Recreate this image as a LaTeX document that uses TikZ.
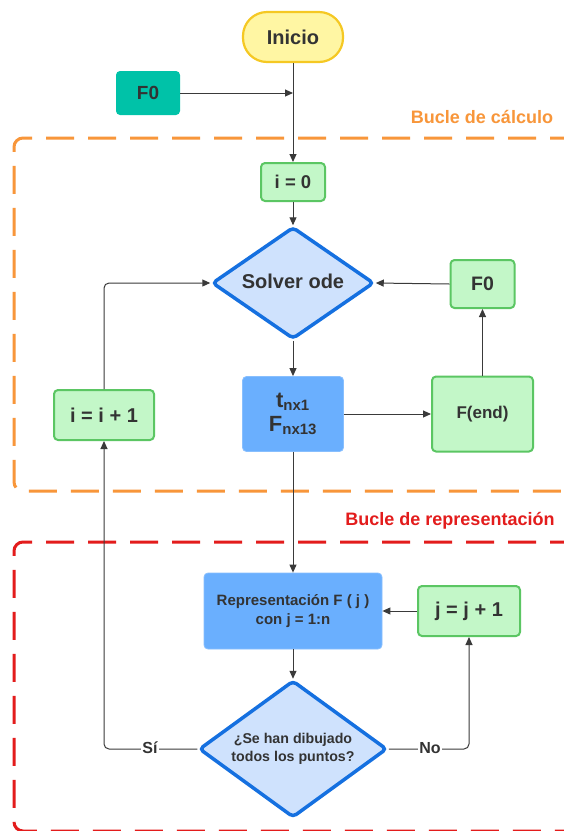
\documentclass[tikz,border=0pt]{standalone}
\usepackage{fontspec}
\setmainfont{Liberation Sans}
\usetikzlibrary{shapes.geometric,arrows.meta}
\definecolor{txt}{HTML}{333333}
\definecolor{yfill}{HTML}{FFF6A3}
\definecolor{ydraw}{HTML}{F5C823}
\definecolor{teal}{HTML}{00C2A8}
\definecolor{gfill}{HTML}{C3F7C8}
\definecolor{gdraw}{HTML}{5BC663}
\definecolor{dfill}{HTML}{CFE2FD}
\definecolor{ddraw}{HTML}{1570E0}
\definecolor{bfill}{HTML}{6AAFFE}
\definecolor{orng}{HTML}{F8963A}
\definecolor{redc}{HTML}{E31C1C}
\definecolor{linec}{HTML}{3A3A3A}
\tikzset{
  x=1pt,y=-1pt,
  every node/.style={font=\bfseries, text=txt, inner sep=0pt},
  greenbox/.style={draw=gdraw, fill=gfill, line width=2pt, rounded corners=4pt},
  bluebox/.style={draw=bfill!80!white, fill=bfill, line width=0.8pt, rounded corners=4pt},
  decision/.style={diamond, draw=ddraw, fill=dfill, line width=3.5pt, rounded corners=4pt, aspect=1.45},
  conn/.style={draw=linec, line width=1pt, -{Triangle[length=8pt,width=7pt]}},
  plain/.style={draw=linec, line width=1pt},
  loopbox/.style={line width=3pt, dash pattern=on 28pt off 14pt, rounded corners=9pt}
}
\begin{document}
\begin{tikzpicture}
\useasboundingbox (0,0) rectangle (564,831);
\clip (0,0) rectangle (564,831);
\fill[white] (0,0) rectangle (564,831);

% loop frames
\draw[loopbox, draw=orng] (620,138) -- (14,138) -- (14,491) -- (620,491);
\draw[loopbox, draw=redc] (620,542) -- (14,542) -- (14,831) -- (620,831);
\node[text=orng, font=\bfseries\fontsize{18}{20}\selectfont] (lab1) at (482,117) {Bucle de cálculo};
\node[text=redc, font=\bfseries\fontsize{18}{20}\selectfont] (lab2) at (450,521) {Bucle de representación};

% nodes
\node[draw=ydraw, fill=yfill, line width=2.2pt, rounded corners=24pt, minimum width=100pt, minimum height=50pt, font=\bfseries\fontsize{20}{22}\selectfont] (inicio) at (293,37) {Inicio};
\node[fill=teal, rounded corners=4pt, minimum width=64pt, minimum height=44pt, font=\bfseries\fontsize{19}{21}\selectfont] (f0a) at (148,93) {F0};
\coordinate (m1) at (293,93);
\node[greenbox, minimum width=64pt, minimum height=38pt, font=\bfseries\fontsize{18.5}{20}\selectfont] (i0) at (293,182) {i = 0};
\node[decision, minimum width=162pt, minimum height=112pt] (solver) at (293,283) {};
\node[font=\bfseries\fontsize{20}{22}\selectfont] (solvert) at (293,281) {Solver ode};
\node[greenbox, minimum width=64pt, minimum height=48pt, font=\bfseries\fontsize{19.5}{21}\selectfont] (f0b) at (482.5,284) {F0};
\node[bluebox, minimum width=101pt, minimum height=75pt, align=center, font=\bfseries\fontsize{22}{25}\selectfont] (tf) at (293,414) {t\textsubscript{\fontsize{15}{15}\selectfont nx1}\\[-1pt]F\textsubscript{\fontsize{15}{15}\selectfont nx13}};
\node[greenbox, minimum width=101pt, minimum height=75pt, font=\bfseries\fontsize{17}{19}\selectfont] (fend) at (482.5,414) {F(end)};
\node[greenbox, minimum width=100pt, minimum height=50pt, font=\bfseries\fontsize{20}{22}\selectfont] (ii) at (104,415) {i = i + 1};
\node[bluebox, minimum width=178pt, minimum height=76pt, align=center, font=\bfseries\fontsize{15}{19}\selectfont] (rep) at (293,611) {Representación F ( j )\\con j = 1:n};
\node[greenbox, minimum width=102pt, minimum height=50pt, font=\bfseries\fontsize{20}{22}\selectfont] (jj) at (469,611) {j = j + 1};
\node[decision, minimum width=188pt, minimum height=137pt] (dec) at (293,749) {};
\node[align=center, font=\bfseries\fontsize{14.2}{18.5}\selectfont] (dect) at (293,749) {¿Se han dibujado\\todos los puntos?};

% connectors
\draw[plain] (inicio.south) -- (m1);
\draw[conn] (f0a.east) -- (m1);
\draw[conn] (m1) -- (i0.north);
\draw[conn] (i0.south) -- (solver.north);
\draw[conn] (f0b.west) -- (solver.east);
\draw[conn] (solver.south) -- (tf.north);
\draw[conn] (tf.east |- fend.west) -- (fend.west);
\draw[conn] (fend.north) -- (f0b.south);
\draw[conn, rounded corners=5pt] (ii.north) |- (solver.west);
\draw[conn] (tf.south) -- (rep.north);
\draw[conn] (jj.west) -- (rep.east);
\draw[conn] (rep.south) -- (dec.north);
\draw[conn, rounded corners=5pt] (dec.west) -| (ii.south);
\node[fill=white, inner sep=1pt, font=\bfseries\fontsize{16}{18}\selectfont] (silab) at (150,748) {Sí};
\draw[conn, rounded corners=5pt] (dec.east) -| (jj.south);
\node[fill=white, inner sep=1pt, font=\bfseries\fontsize{16}{18}\selectfont] (nolab) at (430,748) {No};
\end{tikzpicture}
\end{document}
